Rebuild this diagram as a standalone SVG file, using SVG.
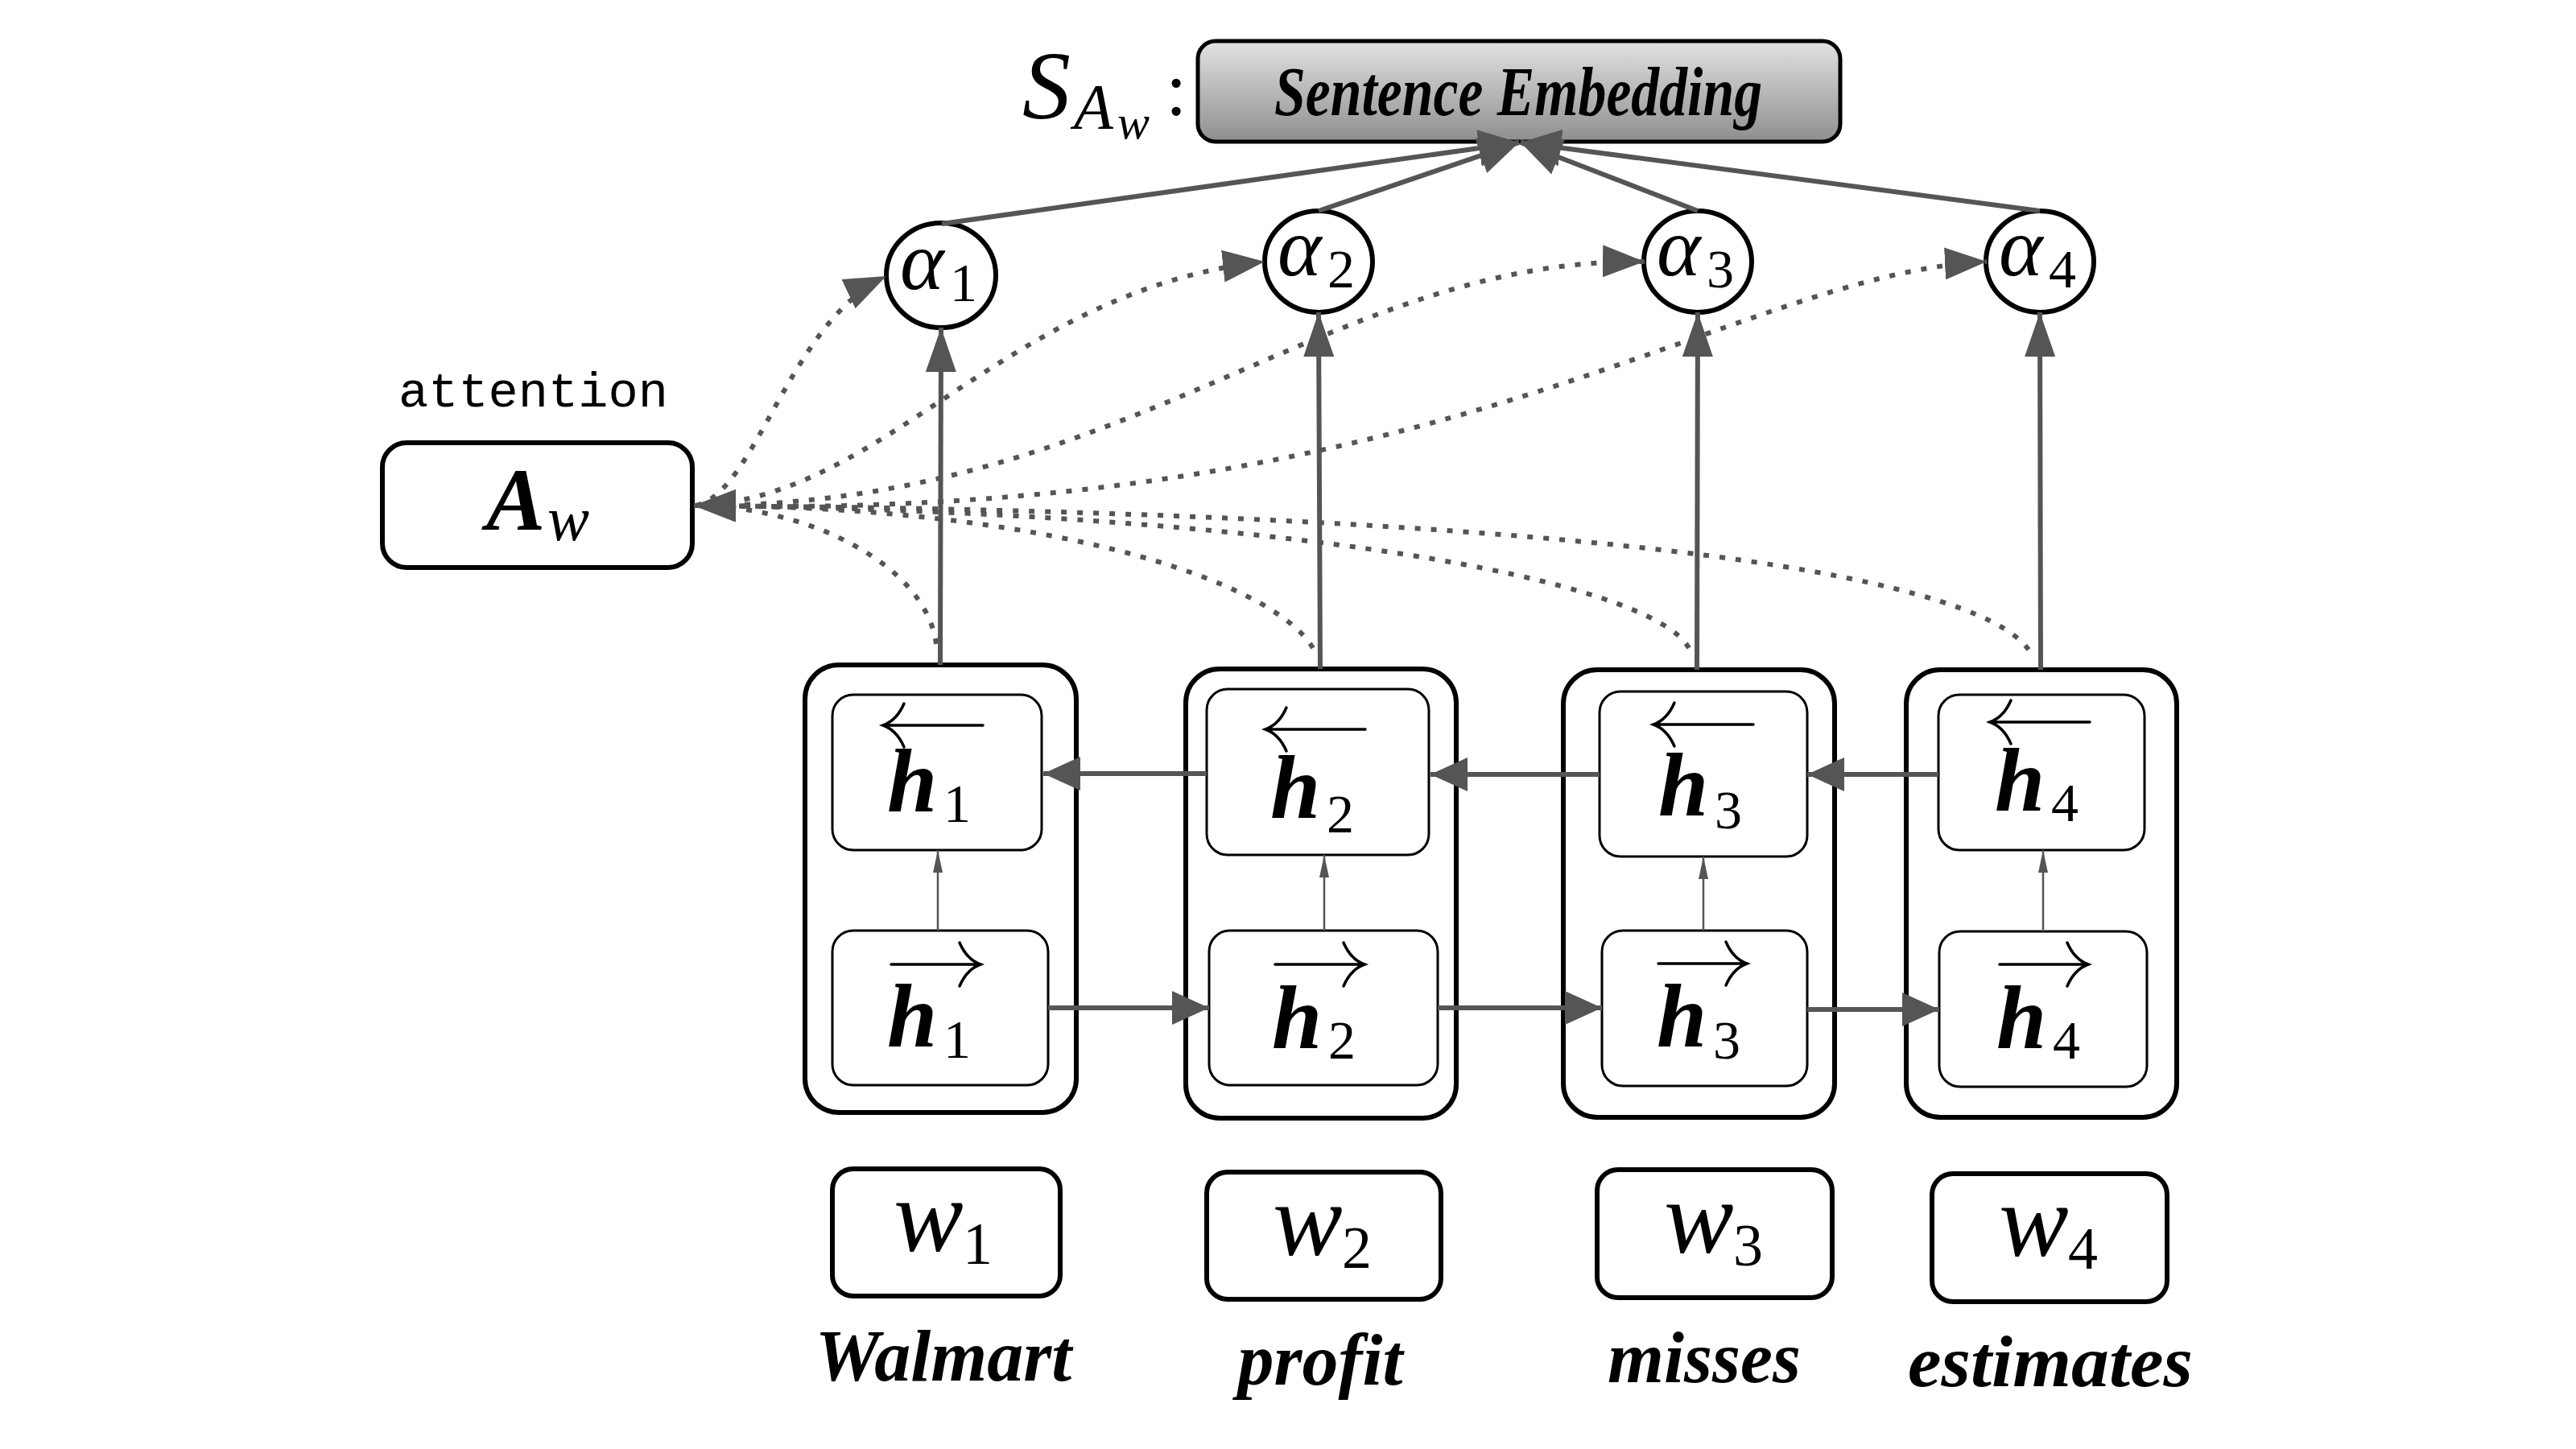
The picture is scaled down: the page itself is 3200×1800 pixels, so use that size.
<svg xmlns="http://www.w3.org/2000/svg" width="3200" height="1800" viewBox="0 0 3200 1800">
<style>
.bg{fill:#ffffff}
.outer{fill:#ffffff;stroke:#000;stroke-width:6}
.inner{fill:#ffffff;stroke:#000;stroke-width:3}
.wbox{fill:#ffffff;stroke:#000;stroke-width:6}
.alpha{fill:#ffffff;stroke:#000;stroke-width:6}
.math{font-family:"Liberation Serif","DejaVu Serif",serif;font-style:italic;fill:#000}
.mathb{font-family:"Liberation Serif","DejaVu Serif",serif;font-style:italic;font-weight:bold;fill:#000}
.num{font-family:"Liberation Serif","DejaVu Serif",serif;fill:#000}
.word{font-family:"Liberation Serif","DejaVu Serif",serif;font-style:italic;font-weight:bold;font-size:90px;fill:#000;text-anchor:middle}
.mono{font-family:"Liberation Mono","DejaVu Sans Mono",monospace;font-size:62px;fill:#000}
.line{stroke:#555;stroke-width:6;fill:none}
.thin{stroke:#555;stroke-width:2.5;fill:none}
.dot{stroke:#555;stroke-width:6;fill:none;stroke-dasharray:7 13}
.vec{stroke:#000;stroke-width:3.5;fill:none;stroke-linecap:round}
</style>
<defs>
<linearGradient id="seg" x1="0" y1="0" x2="0" y2="1">
<stop offset="0" stop-color="#e2e2e2"/>
<stop offset="1" stop-color="#8e8e8e"/>
</linearGradient>
<marker id="mBig" markerUnits="userSpaceOnUse" markerWidth="50" markerHeight="46" refX="50" refY="23" orient="auto"><path d="M0,0 L50,23 L0,46 Z" fill="#555"/></marker>
<marker id="mUp" markerUnits="userSpaceOnUse" markerWidth="55" markerHeight="38" refX="55" refY="19" orient="auto"><path d="M0,0 L55,19 L0,38 Z" fill="#555"/></marker>
<marker id="mHor" markerUnits="userSpaceOnUse" markerWidth="46" markerHeight="42" refX="46" refY="21" orient="auto"><path d="M0,0 L46,21 L0,42 Z" fill="#555"/></marker>
<marker id="mThin" markerUnits="userSpaceOnUse" markerWidth="28" markerHeight="12" refX="28" refY="6" orient="auto"><path d="M0,0 L28,6 L0,12 Z" fill="#555"/></marker>
<marker id="mDot" markerUnits="userSpaceOnUse" markerWidth="52" markerHeight="40" refX="52" refY="20" orient="auto"><path d="M0,0 L52,20 L0,40 Z" fill="#555"/></marker>
</defs>
<rect class="bg" x="0" y="0" width="3200" height="1800"/>

<g id="sentence-embedding">
<rect x="1488" y="51" width="798" height="125" rx="22" fill="url(#seg)" stroke="#000" stroke-width="5"/>
<text x="1886" y="143" class="mathb" font-size="86" text-anchor="middle" textLength="606" lengthAdjust="spacingAndGlyphs">Sentence Embedding</text>
</g>
<g id="s-label">
<text x="1270" y="147" class="math" font-size="120">S</text>
<text x="1334" y="160" class="math" font-size="80">A</text>
<text x="1388" y="172" class="math" font-size="60">w</text>
<text x="1448" y="143" class="num" font-size="95">:</text>
</g>

<g id="attention">
<text x="495" y="505" class="mono">attention</text>
<rect x="475" y="550" width="385" height="155" rx="30" class="wbox"/>
<text x="604" y="658" class="mathb" font-size="110">A</text>
<text x="680" y="671" class="math" font-size="78">w</text>
</g>

<g id="alpha1">
<ellipse cx="1169" cy="342" rx="68" ry="65" class="alpha"/>
<text x="1118" y="359" class="math" font-size="104">α</text>
<text x="1180" y="374" class="num" font-size="68">1</text>
</g>
<g id="alpha2">
<ellipse cx="1638" cy="325" rx="67" ry="63" class="alpha"/>
<text x="1587" y="342" class="math" font-size="104">α</text>
<text x="1649" y="357" class="num" font-size="68">2</text>
</g>
<g id="alpha3">
<ellipse cx="2109" cy="325" rx="67" ry="63" class="alpha"/>
<text x="2058" y="342" class="math" font-size="104">α</text>
<text x="2120" y="357" class="num" font-size="68">3</text>
</g>
<g id="alpha4">
<ellipse cx="2534" cy="325" rx="67" ry="63" class="alpha"/>
<text x="2483" y="342" class="math" font-size="104">α</text>
<text x="2545" y="357" class="num" font-size="68">4</text>
</g>

<g id="block1">
<rect x="1000" y="826" width="337" height="556" rx="42" class="outer"/>
<rect x="1034" y="863" width="260" height="193" rx="26" class="inner"/>
<path class="vec" d="M1097,901 H1221 M1123,874 C1117,888 1108,897 1097,901 C1108,905 1117,914 1123,928"/>
<text x="1102" y="1008" class="mathb" font-size="112">h</text>
<text x="1172" y="1021" class="num" font-size="68">1</text>
<rect x="1034" y="1156" width="268" height="192" rx="26" class="inner"/>
<path class="vec" d="M1107,1198 H1218 M1192,1171 C1198,1185 1207,1194 1218,1198 C1207,1202 1198,1211 1192,1225"/>
<text x="1102" y="1300" class="mathb" font-size="112">h</text>
<text x="1172" y="1314" class="num" font-size="68">1</text>
</g>
<g id="block2">
<rect x="1473" y="831" width="336" height="558" rx="42" class="outer"/>
<rect x="1499" y="856" width="276" height="206" rx="26" class="inner"/>
<path class="vec" d="M1572,906 H1696 M1598,879 C1592,893 1583,902 1572,906 C1583,910 1592,919 1598,933"/>
<text x="1578" y="1016" class="mathb" font-size="112">h</text>
<text x="1648" y="1034" class="num" font-size="68">2</text>
<rect x="1502" y="1156" width="284" height="192" rx="26" class="inner"/>
<path class="vec" d="M1584,1198 H1695 M1669,1171 C1675,1185 1684,1194 1695,1198 C1684,1202 1675,1211 1669,1225"/>
<text x="1580" y="1302" class="mathb" font-size="112">h</text>
<text x="1650" y="1315" class="num" font-size="68">2</text>
</g>
<g id="block3">
<rect x="1942" y="832" width="337" height="556" rx="42" class="outer"/>
<rect x="1987" y="859" width="258" height="205" rx="26" class="inner"/>
<path class="vec" d="M2054,900 H2178 M2080,873 C2074,887 2065,896 2054,900 C2065,904 2074,913 2080,927"/>
<text x="2060" y="1013" class="mathb" font-size="112">h</text>
<text x="2130" y="1029" class="num" font-size="68">3</text>
<rect x="1990" y="1156" width="255" height="193" rx="26" class="inner"/>
<path class="vec" d="M2060,1197 H2170 M2144,1170 C2150,1184 2159,1193 2170,1197 C2159,1201 2150,1210 2144,1224"/>
<text x="2058" y="1300" class="mathb" font-size="112">h</text>
<text x="2128" y="1315" class="num" font-size="68">3</text>
</g>
<g id="block4">
<rect x="2368" y="832" width="336" height="556" rx="42" class="outer"/>
<rect x="2408" y="863" width="256" height="193" rx="26" class="inner"/>
<path class="vec" d="M2472,897 H2596 M2498,870 C2492,884 2483,893 2472,897 C2483,901 2492,910 2498,924"/>
<text x="2478" y="1007" class="mathb" font-size="112">h</text>
<text x="2548" y="1020" class="num" font-size="68">4</text>
<rect x="2409" y="1157" width="258" height="193" rx="26" class="inner"/>
<path class="vec" d="M2484,1198 H2594 M2568,1171 C2574,1185 2583,1194 2594,1198 C2583,1202 2574,1211 2568,1225"/>
<text x="2480" y="1302" class="mathb" font-size="112">h</text>
<text x="2550" y="1315" class="num" font-size="68">4</text>
</g>

<g id="w1">
<rect x="1034" y="1452" width="283" height="158" rx="26" class="wbox"/>
<text x="1110" y="1554" class="math" font-size="130">w</text>
<text x="1196" y="1570" class="num" font-size="74">1</text>
</g>
<g id="w2">
<rect x="1499" y="1456" width="291" height="158" rx="26" class="wbox"/>
<text x="1581" y="1559" class="math" font-size="130">w</text>
<text x="1667" y="1575" class="num" font-size="74">2</text>
</g>
<g id="w3">
<rect x="1984" y="1453" width="292" height="159" rx="26" class="wbox"/>
<text x="2067" y="1556" class="math" font-size="130">w</text>
<text x="2153" y="1572" class="num" font-size="74">3</text>
</g>
<g id="w4">
<rect x="2400" y="1458" width="292" height="159" rx="26" class="wbox"/>
<text x="2483" y="1560" class="math" font-size="130">w</text>
<text x="2569" y="1576" class="num" font-size="74">4</text>
</g>

<g id="words">
<text x="1172" y="1715" class="word">Walmart</text>
<text x="1640" y="1720" class="word">profit</text>
<text x="2117" y="1717" class="word">misses</text>
<text x="2547" y="1722" class="word" textLength="354" lengthAdjust="spacingAndGlyphs">estimates</text>
</g>

<g id="connectors">
<line class="line" x1="1170" y1="278" x2="1887" y2="177" marker-end="url(#mBig)"/>
<line class="line" x1="1638" y1="262" x2="1887" y2="177" marker-end="url(#mBig)"/>
<line class="line" x1="2109" y1="262" x2="1889" y2="177" marker-end="url(#mBig)"/>
<line class="line" x1="2534" y1="262" x2="1889" y2="177" marker-end="url(#mBig)"/>
<line class="line" x1="1168" y1="826" x2="1169" y2="407" marker-end="url(#mUp)"/>
<line class="line" x1="1640" y1="831" x2="1638" y2="388" marker-end="url(#mUp)"/>
<line class="line" x1="2108" y1="832" x2="2109" y2="388" marker-end="url(#mUp)"/>
<line class="line" x1="2535" y1="832" x2="2534" y2="388" marker-end="url(#mUp)"/>
<line class="line" x1="1499" y1="961" x2="1296" y2="961" marker-end="url(#mHor)"/>
<line class="line" x1="1987" y1="962" x2="1777" y2="962" marker-end="url(#mHor)"/>
<line class="line" x1="2408" y1="962" x2="2245" y2="962" marker-end="url(#mHor)"/>
<line class="line" x1="1302" y1="1252" x2="1502" y2="1252" marker-end="url(#mHor)"/>
<line class="line" x1="1786" y1="1252" x2="1990" y2="1252" marker-end="url(#mHor)"/>
<line class="line" x1="2245" y1="1254" x2="2409" y2="1254" marker-end="url(#mHor)"/>
<line class="thin" x1="1165" y1="1156" x2="1165" y2="1056" marker-end="url(#mThin)"/>
<line class="thin" x1="1645" y1="1156" x2="1645" y2="1062" marker-end="url(#mThin)"/>
<line class="thin" x1="2116" y1="1156" x2="2116" y2="1064" marker-end="url(#mThin)"/>
<line class="thin" x1="2538" y1="1157" x2="2538" y2="1056" marker-end="url(#mThin)"/>
<path class="dot" d="M865,628 C940,610 980,400 1101,343" marker-end="url(#mDot)"/>
<path class="dot" d="M865,628 C1100,620 1250,360 1571,325" marker-end="url(#mDot)"/>
<path class="dot" d="M865,628 C1400,630 1650,320 2043,325" marker-end="url(#mDot)"/>
<path class="dot" d="M865,628 C1800,650 2150,340 2468,325" marker-end="url(#mDot)"/>
<path class="dot" d="M1163,800 C1150,700 1000,628 862,628" marker-end="url(#mDot)"/>
<path class="dot" d="M1631,805 C1580,720 1300,628 862,628" marker-end="url(#mDot)"/>
<path class="dot" d="M2098,805 C2050,720 1600,636 862,628" marker-end="url(#mDot)"/>
<path class="dot" d="M2520,807 C2450,710 1950,636 862,628" marker-end="url(#mDot)"/>
</g>
</svg>
